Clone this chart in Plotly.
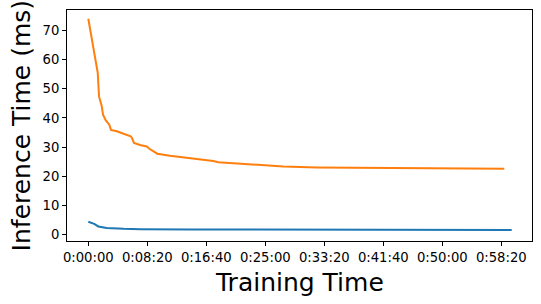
import plotly.graph_objects as go

# Training time in seconds and inference time (ms)
blue_t = [0, 50, 85, 155, 300, 440, 860, 1500, 2500, 3588]
blue_v = [4.3, 3.6, 2.7, 2.2, 1.9, 1.75, 1.65, 1.6, 1.55, 1.5]

orange_t = [0, 34, 80, 91, 114, 125, 147, 178, 192, 241, 297, 359, 370, 387, 438,
            495, 517, 551, 585, 692, 834, 904, 1059, 1102, 1229, 1342, 1455, 1653,
            1936, 2500, 3065, 3525]
orange_v = [74.1, 65.9, 55.5, 47.4, 44.0, 41.1, 39.2, 37.7, 35.9, 35.4, 34.6, 33.7,
            33.1, 31.4, 30.7, 30.2, 29.4, 28.5, 27.7, 27.0, 26.4, 25.9, 25.2, 24.8,
            24.5, 24.1, 23.9, 23.3, 23.0, 22.8, 22.6, 22.5]

x_tickvals = [0, 500, 1000, 1500, 2000, 2500, 3000, 3500]
x_ticktext = ["0:00:00", "0:08:20", "0:16:40", "0:25:00", "0:33:20", "0:41:40", "0:50:00", "0:58:20"]
y_tickvals = [0, 10, 20, 30, 40, 50, 60, 70]

x_title = "Training Time"
y_title = "Inference Time (ms)"

fig = go.Figure()
fig.add_trace(go.Scatter(x=blue_t, y=blue_v, mode="lines",
                         line=dict(color="#1f77b4", width=2), showlegend=False))
fig.add_trace(go.Scatter(x=orange_t, y=orange_v, mode="lines",
                         line=dict(color="#ff7f0e", width=2), showlegend=False))

axis_common = dict(showline=True, linecolor="black", linewidth=1, mirror=True,
                   ticks="outside", ticklen=4, tickcolor="black", tickwidth=1,
                   showgrid=False, zeroline=False, automargin=False,
                   tickfont=dict(family="DejaVu Sans", size=13.2, color="black"))

fig.update_layout(
    width=541, height=304,
    margin=dict(l=67, r=9, t=10, b=63),
    paper_bgcolor="white", plot_bgcolor="white",
    font=dict(family="DejaVu Sans", color="black"),
    xaxis=dict(range=[-180.5, 3760], tickvals=x_tickvals, ticktext=x_ticktext,
               **axis_common),
    yaxis=dict(range=[-2.3, 77.1], tickvals=y_tickvals, **axis_common),
    annotations=[
        dict(text=x_title, xref="paper", yref="paper", x=0.5, y=-0.178,
             xanchor="center", yanchor="middle", showarrow=False,
             font=dict(family="DejaVu Sans", size=25, color="black")),
        dict(text=y_title, xref="paper", yref="paper", x=-0.0985, y=0.497,
             xanchor="center", yanchor="middle", showarrow=False, textangle=-90,
             font=dict(family="DejaVu Sans", size=25, color="black")),
    ],
)

fig.write_html("out.html", config={"displayModeBar": False},
               post_script="document.body.style.margin='0';")
